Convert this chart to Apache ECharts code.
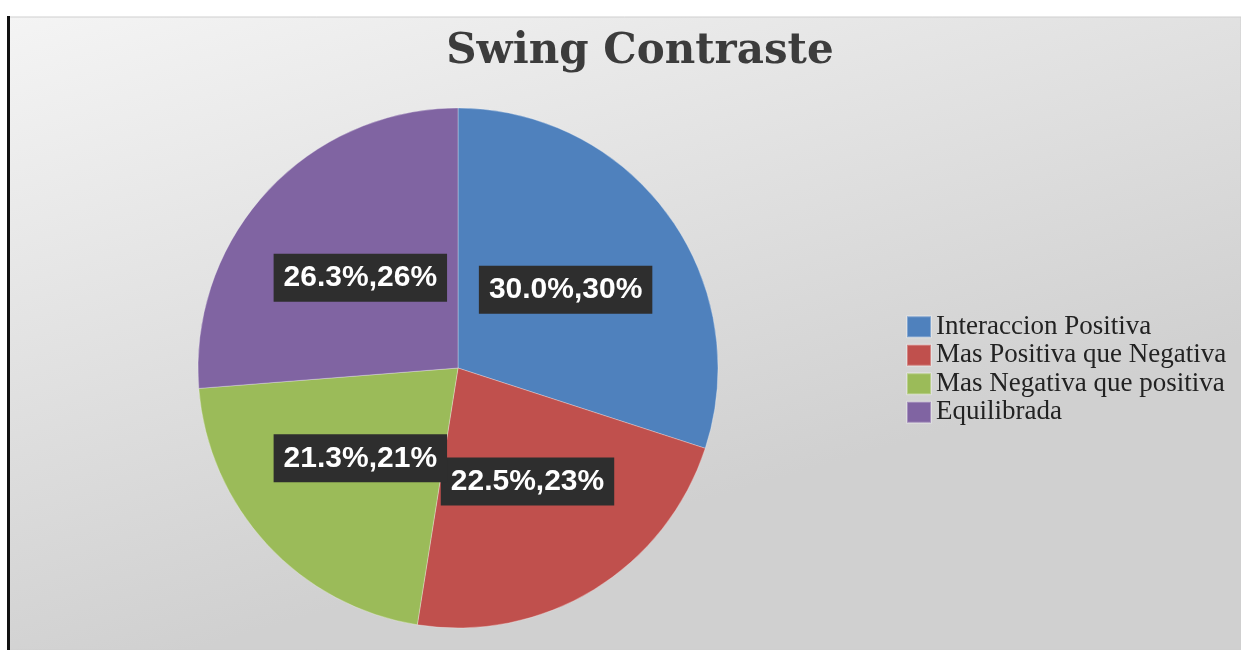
<!DOCTYPE html>
<html>
<head>
<meta charset="utf-8">
<script src="https://cdn.jsdelivr.net/npm/echarts@6/dist/echarts.min.js"></script>
<style>
  html, body { margin: 0; padding: 0; background: #ffffff; }
  #chart { width: 1241px; height: 650px; }
</style>
</head>
<body>
<div id="chart"></div>
<script>
// counts out of 80 answers
var categories = ['Interaccion Positiva', 'Mas Positiva que Negativa', 'Mas Negativa que positiva', 'Equilibrada'];
var counts = [24, 18, 17, 21];
var colors = ['#4f81bd', '#c0504d', '#9bbb59', '#8064a2'];

var total = counts.reduce(function (a, b) { return a + b; }, 0);
var pie_data = categories.map(function (c, i) {
    return {name: c, value: counts[i]};
});

function label_text(p) {
    var pct = p.value / total * 100;
    return pct.toFixed(1) + '%,' + Math.round(pct) + '%';
}

var chart = echarts.init(document.getElementById('chart'));
chart.setOption({
    animation: false,
    color: colors,
    graphic: [
        {
            type: 'rect', z: -10, silent: true,
            shape: {x: 8, y: 17, width: 1233, height: 633},
            style: {
                fill: new echarts.graphic.LinearGradient(0, 0, 0.15, 1, [
                    {offset: 0, color: '#f4f4f4'},
                    {offset: 1, color: '#d0d0d0'}
                ]),
                stroke: '#cfcfcf', lineWidth: 1
            }
        },
        {
            type: 'line', z: -9, silent: true,
            shape: {x1: 8.5, y1: 16, x2: 8.5, y2: 650},
            style: {stroke: '#111', lineWidth: 3}
        }
    ],
    title: {
        text: 'Swing Contraste',
        left: 635,
        top: 26,
        textAlign: 'center',
        textStyle: {fontFamily: 'DejaVu Serif', fontWeight: 'bold', fontSize: 42, color: '#3c3c3c'}
    },
    legend: {
        orient: 'vertical',
        left: 901,
        top: 308,
        icon: 'rect',
        itemWidth: 24,
        itemHeight: 21,
        itemGap: 1,
        textStyle: {fontFamily: 'Liberation Serif', fontSize: 27, lineHeight: 27.5, color: '#222'}
    },
    series: [{
        type: 'pie',
        center: [458, 368],
        radius: 260,
        startAngle: 90,
        clockwise: true,
        avoidLabelOverlap: false,
        data: pie_data,
        itemStyle: {borderColor: 'rgba(255,255,255,0.3)', borderWidth: 1},
        label: {
            position: 'inside',
            formatter: label_text,
            fontFamily: 'Liberation Sans',
            fontWeight: 'bold',
            fontSize: 30,
            lineHeight: 32,
            color: '#ffffff',
            backgroundColor: '#2e2e2e',
            padding: [8, 10]
        },
        labelLayout: {hideOverlap: false},
        labelLine: {show: false},
        emphasis: {disabled: true}
    }]
});
</script>
</body>
</html>
